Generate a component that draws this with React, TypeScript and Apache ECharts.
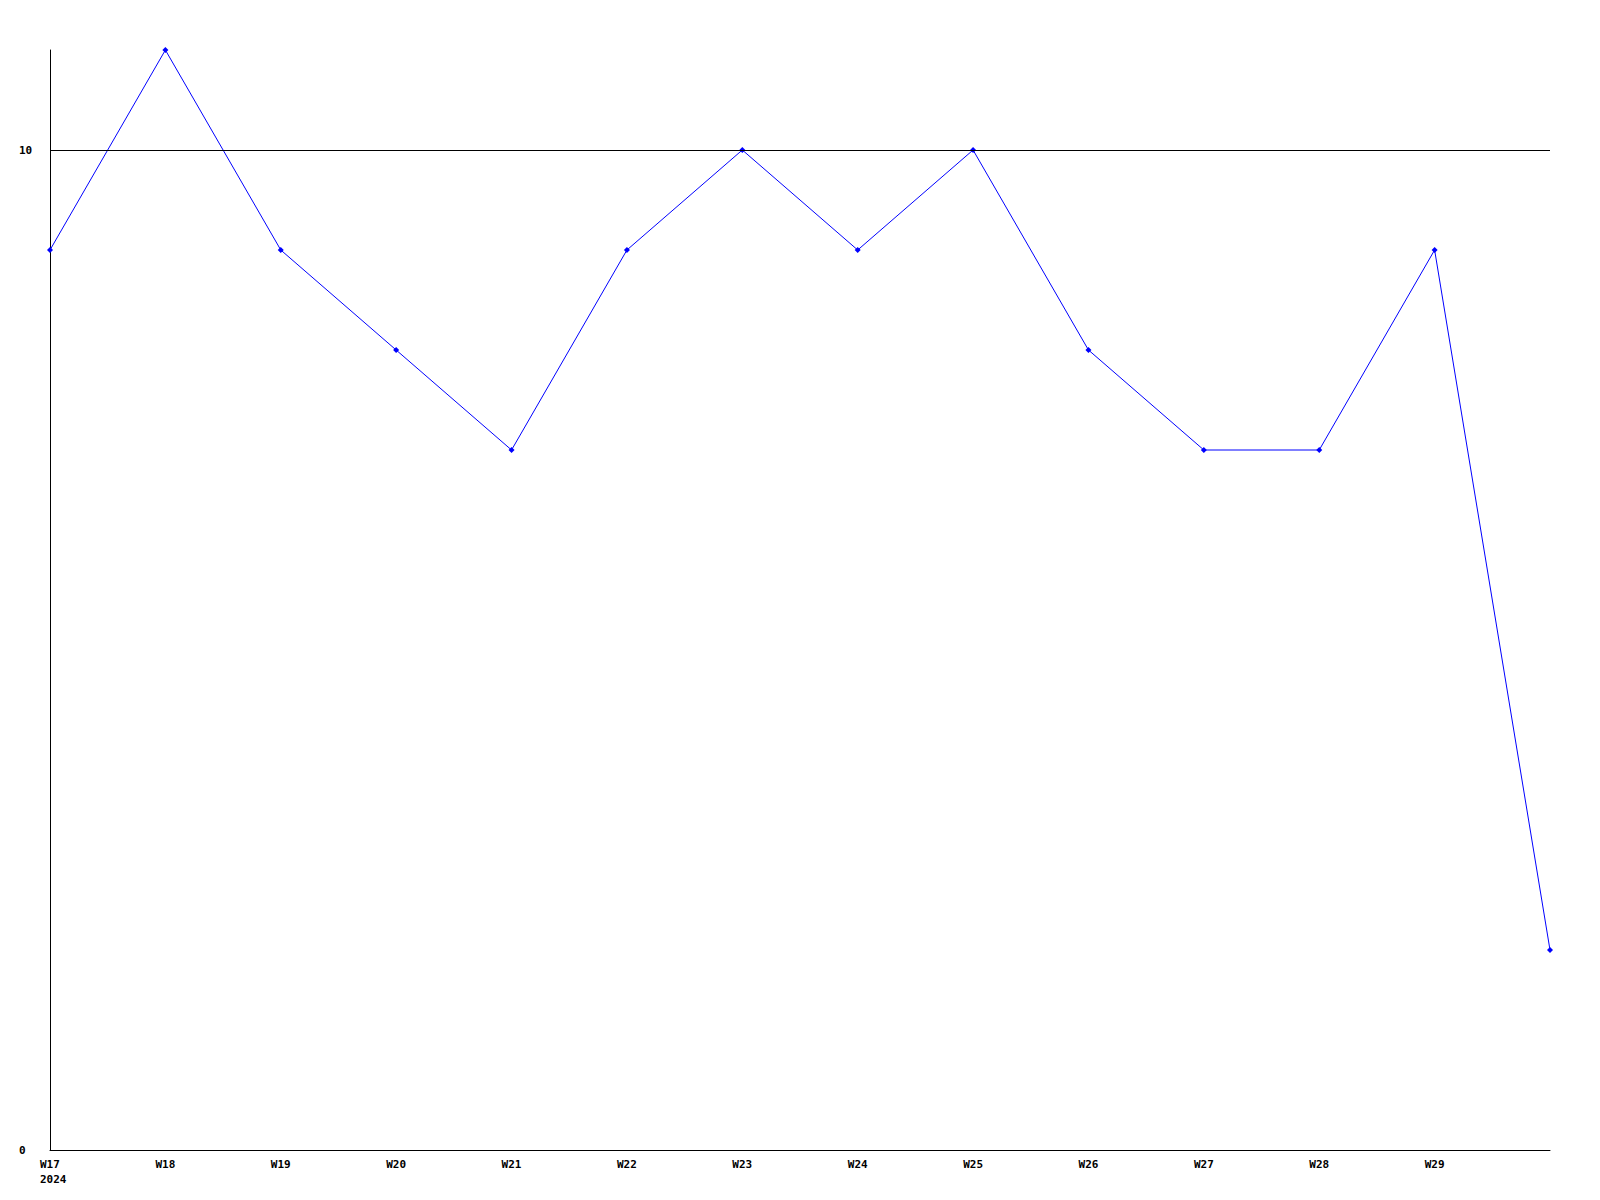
import React, { useEffect, useRef } from "react";
import * as echarts from "echarts";

const categories = ["W17", "W18", "W19", "W20", "W21", "W22", "W23", "W24", "W25", "W26", "W27", "W28", "W29", ""];
const yearLabel = "2024";
const values = [9, 11, 9, 8, 7, 9, 10, 9, 10, 8, 7, 7, 9, 2];
const yLabels = [0, 10];

export default function App() {
  const ref = useRef<HTMLDivElement>(null);
  useEffect(() => {
    if (!ref.current) return;
    const chart = echarts.init(ref.current, undefined, { renderer: "svg" });
    const font = { fontFamily: "DejaVu Sans Mono", fontWeight: "bold" as const, fontSize: 11, color: "#000" };
    chart.setOption({
      animation: false,
      backgroundColor: "#fff",
      grid: { left: 50, right: 50, top: 50, bottom: 50, containLabel: false },
      xAxis: {
        type: "category",
        data: categories,
        boundaryGap: false,
        axisLine: { show: true, lineStyle: { color: "#000", width: 1 } },
        axisTick: { show: false },
        axisLabel: {
          ...font,
          margin: 7,
          interval: 0,
          lineHeight: 15,
          verticalAlign: "top",
          formatter: (v: string, i: number) => (i === 0 ? `{a|${v}}\n{a|${yearLabel}}` : v),
          rich: { a: { ...font, width: 20, align: "left", lineHeight: 15 } },
        },
        splitLine: { show: false },
      },
      yAxis: {
        type: "value",
        min: 0,
        max: 11,
        interval: 10,
        axisLine: { show: true, lineStyle: { color: "#000", width: 1 } },
        axisTick: { show: false },
        splitLine: { show: false },
        axisLabel: {
          ...font,
          align: "left",
          margin: 31,
          formatter: (v: number) => (yLabels.includes(v) ? String(v) : ""),
        },
      },
      series: [
        {
          type: "line",
          data: values,
          symbol: "diamond",
          symbolSize: 6,
          showAllSymbol: true,
          lineStyle: { color: "#0000ff", width: 1 },
          itemStyle: { color: "#0000ff" },
          markLine: {
            silent: true,
            symbol: "none",
            label: { show: false },
            lineStyle: { color: "#000", width: 1, type: "solid" },
            data: [{ yAxis: 10 }],
          },
        },
      ],
    });
    return () => chart.dispose();
  }, []);
  return <div ref={ref} style={{ position: "absolute", left: 0, top: 0, width: 1600, height: 1200 }} />;
}
